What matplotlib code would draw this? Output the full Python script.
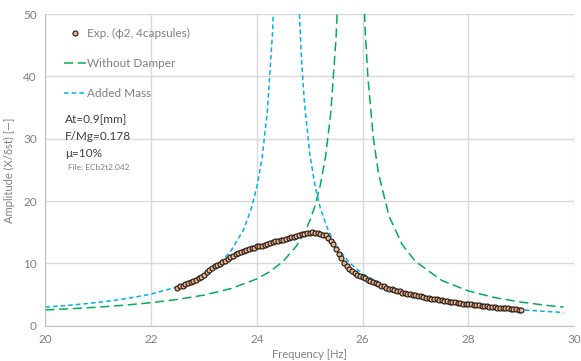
import matplotlib.pyplot as plt

# experimental sweep (phi2, 4 capsules)
exp_freq = [22.50, 22.55, 22.60, 22.65, 22.70, 22.75, 22.80, 22.85, 22.90, 22.95,
            23.00, 23.05, 23.10, 23.15, 23.20, 23.25, 23.30, 23.35, 23.40, 23.45,
            23.50, 23.55, 23.60, 23.65, 23.70, 23.75, 23.80, 23.85, 23.90, 23.95,
            24.00, 24.05, 24.10, 24.15, 24.20, 24.25, 24.30, 24.35, 24.40, 24.45,
            24.50, 24.55, 24.60, 24.65, 24.70, 24.75, 24.80, 24.85, 24.90, 24.95,
            25.00, 25.05, 25.10, 25.15, 25.20, 25.25, 25.30, 25.35, 25.40, 25.45,
            25.50, 25.55, 25.60, 25.65, 25.70, 25.75, 25.80, 25.85, 25.90, 25.95,
            26.00, 26.05, 26.10, 26.15, 26.20, 26.25, 26.30, 26.35, 26.40, 26.45,
            26.50, 26.55, 26.60, 26.65, 26.70, 26.75, 26.80, 26.85, 26.90, 26.95,
            27.00, 27.05, 27.10, 27.15, 27.20, 27.25, 27.30, 27.35, 27.40, 27.45,
            27.50, 27.55, 27.60, 27.65, 27.70, 27.75, 27.80, 27.85, 27.90, 27.95,
            28.00, 28.05, 28.10, 28.15, 28.20, 28.25, 28.30, 28.35, 28.40, 28.45,
            28.50, 28.55, 28.60, 28.65, 28.70, 28.75, 28.80, 28.85, 28.90, 28.95,
            29.00]
exp_amp = [6.1, 6.3, 6.4, 6.6, 6.8, 7.0, 7.1, 7.3, 7.6, 7.8,
           8.2, 8.6, 9.0, 9.3, 9.5, 9.7, 9.9, 10.2, 10.4, 10.7,
           11.0, 11.1, 11.5, 11.7, 11.8, 11.9, 12.2, 12.3, 12.4, 12.5,
           12.7, 12.8, 12.7, 13.0, 13.1, 13.2, 13.5, 13.6, 13.6, 13.8,
           13.8, 13.9, 14.1, 14.3, 14.3, 14.4, 14.6, 14.7, 14.7, 14.9,
           14.9, 15.0, 14.9, 14.8, 14.7, 14.6, 14.5, 14.1, 13.6, 13.1,
           12.3, 11.5, 10.8, 10.1, 9.5, 9.1, 8.8, 8.5, 8.2, 8.0,
           7.8, 7.6, 7.4, 7.2, 7.0, 6.8, 6.6, 6.4, 6.3, 6.1,
           5.9, 5.8, 5.7, 5.6, 5.5, 5.3, 5.2, 5.1, 5.0, 4.9,
           4.9, 4.8, 4.7, 4.6, 4.5, 4.4, 4.35, 4.3, 4.2, 4.1,
           4.05, 4.0, 3.9, 3.85, 3.8, 3.75, 3.7, 3.6, 3.55, 3.5,
           3.45, 3.4, 3.35, 3.3, 3.25, 3.2, 3.15, 3.1, 3.05, 3.0,
           2.95, 2.9, 2.9, 2.85, 2.8, 2.75, 2.7, 2.65, 2.6, 2.55,
           2.5]

# without damper (left branch / right branch)
nd_freq_lo = [20.0, 20.5, 21.0, 21.5, 22.0, 22.5, 23.0, 23.5, 24.0, 24.25,
              24.5, 24.75, 24.9, 25.0, 25.1, 25.2, 25.3, 25.4, 25.5, 25.55]
nd_amp_lo = [2.51, 2.72, 2.97, 3.28, 3.68, 4.20, 4.90, 5.92, 7.50, 8.68,
             10.33, 12.77, 14.9, 16.78, 19.2, 22.5, 27.1, 34.2, 46.3, 56.3]
nd_freq_hi = [26.0, 26.05, 26.1, 26.2, 26.3, 26.5, 26.75, 27.0, 27.5, 28.0,
              28.5, 29.0, 29.5, 29.8]
nd_amp_hi = [58.3, 47.4, 40.0, 30.4, 24.5, 17.6, 13.0, 10.3, 7.25, 5.57,
             4.50, 3.77, 3.23, 2.97]

# added mass
am_freq_lo = [20.0, 20.5, 21.0, 21.5, 22.0, 22.5, 23.0, 23.25, 23.5, 23.75,
              23.9, 24.0, 24.1, 24.2, 24.3, 24.35]
am_amp_lo = [2.97, 3.30, 3.72, 4.28, 5.06, 6.22, 8.13, 9.63, 11.84, 15.4,
             18.9, 22.2, 26.9, 34.4, 47.4, 58.7]
am_freq_hi = [24.75, 24.8, 24.85, 24.9, 25.0, 25.1, 25.2, 25.35, 25.5, 25.75,
              26.0, 26.5, 27.0, 27.5, 28.0, 28.5, 29.0, 29.5, 29.8]
am_amp_hi = [64.5, 51.0, 42.1, 35.9, 27.7, 22.5, 18.9, 15.3, 12.8, 10.1,
             8.29, 6.09, 4.79, 3.94, 3.34, 2.89, 2.54, 2.26, 2.12]

gray = '#808080'
green = '#00B050'
blue = '#00B0F0'

plt.rcParams['font.family'] = ['Lato', 'DejaVu Sans']

fig = plt.figure(figsize=(5.81, 3.61), dpi=100)
ax = fig.add_axes([0.078, 0.098, 0.910, 0.863])

ax.plot(nd_freq_lo, nd_amp_lo, color=green, lw=1.1, dashes=(6, 3), label='Without Damper')
ax.plot(nd_freq_hi, nd_amp_hi, color=green, lw=1.1, dashes=(6, 3))
ax.plot(am_freq_lo, am_amp_lo, color=blue, lw=1.1, dashes=(3, 2), label='Added Mass')
ax.plot(am_freq_hi, am_amp_hi, color=blue, lw=1.1, dashes=(3, 2))
ax.plot(exp_freq, exp_amp, 'o', ms=3.6, mfc='#F4B183', mec='#1a1a1a', mew=0.8,
        label='Exp. (\u03d52, 4capsules)', zorder=5)

ax.set_xlim(20, 30)
ax.set_ylim(0, 50)
ax.set_xticks([20, 22, 24, 26, 28, 30])
ax.set_yticks([0, 10, 20, 30, 40, 50])
ax.grid(True, color='#d9d9d9', lw=1)
ax.set_axisbelow(True)
ax.tick_params(length=0, labelsize=8.5, labelcolor=gray, pad=6)
for s in ['top', 'right']:
    ax.spines[s].set_visible(False)
for s in ['left', 'bottom']:
    ax.spines[s].set_color('#bfbfbf')

ax.set_xlabel('Frequency [Hz]', fontsize=8, color=gray, labelpad=3)
ax.set_ylabel('Amplitude (X/\u03b4st) [\u2014]', fontsize=8, color=gray, labelpad=6)

h, l = ax.get_legend_handles_labels()
order = [2, 0, 1]
leg = ax.legend([h[i] for i in order], [l[i] for i in order], loc='upper left',
                bbox_to_anchor=(0.027, 0.97), borderaxespad=0, frameon=False,
                fontsize=8.5, labelspacing=1.6, handlelength=1.8, handletextpad=0.15)
for t in leg.get_texts():
    t.set_color(gray)

ax.text(0.037, 0.68, 'At=0.9[mm]\nF/Mg=0.178\n\u03bc=10%', transform=ax.transAxes,
        fontsize=8.5, color='#404040', va='top', linespacing=1.7)
ax.text(0.042, 0.518, 'File: ECb2t2.042', transform=ax.transAxes,
        fontsize=6, color=gray, va='top')

fig.savefig('out.png', dpi=100)
